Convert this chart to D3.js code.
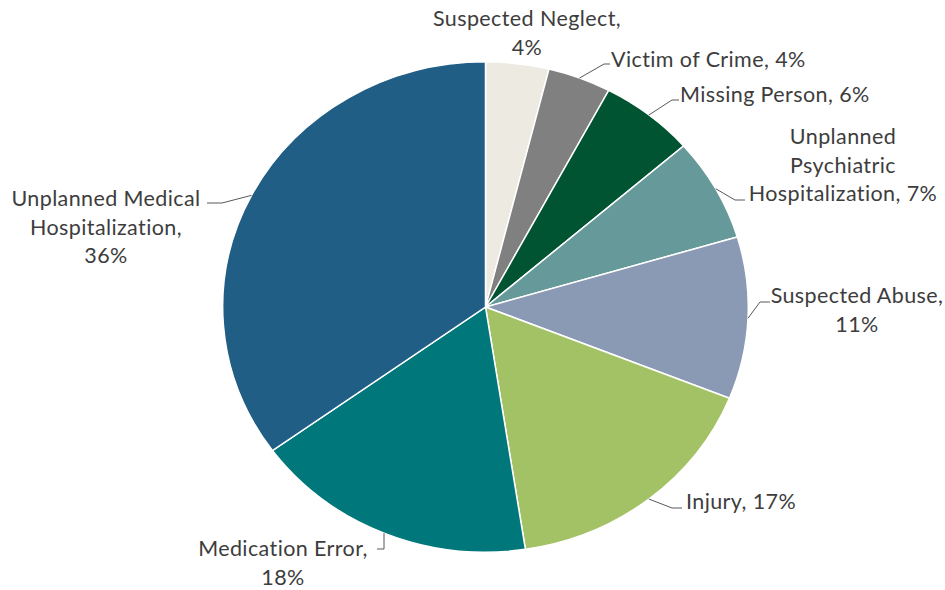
<!DOCTYPE html>
<html>
<head>
<meta charset="utf-8">
<script src="https://cdn.jsdelivr.net/npm/d3@7"></script>
<style>
  body { margin: 0; background: #ffffff; }
  svg { display: block; }
  .label { font-family: "Lato", "Open Sans", sans-serif; font-size: 21.5px; letter-spacing: 0.4px; fill: #3d3d3d; }
</style>
</head>
<body>
<svg id="chart" width="945" height="590"></svg>
<script>
// Incident categories, clockwise from 12 o'clock
const categories = [
  "Suspected Neglect",
  "Victim of Crime",
  "Missing Person",
  "Unplanned Psychiatric Hospitalization",
  "Suspected Abuse",
  "Injury",
  "Medication Error",
  "Unplanned Medical Hospitalization"
];
// Share of incidents (%)
const percentages = [4, 4, 6, 7, 11, 17, 18, 36];
const sliceColors = ["#EDEBE1", "#808080", "#005432", "#66999A", "#8A9AB4", "#A3C266", "#00777B", "#215E85"];
// Words per label line
const labelWrap = [[2, 1], [4], [3], [1, 1, 2], [2, 1], [2], [2, 1], [2, 1, 1]];

// Label placement: text anchor + first baseline, leader elbow and end
const labelLayout = [
  { anchor: "middle", x: 527, y: 26 },
  { anchor: "start", x: 611, y: 67, elbow: [604, 64], end: [610, 64] },
  { anchor: "start", x: 680, y: 102, elbow: [672, 100], end: [679, 100] },
  { anchor: "middle", x: 843, y: 144, elbow: [735, 200], end: [745, 200] },
  { anchor: "middle", x: 857, y: 303, elbow: [760, 302], end: [770, 302] },
  { anchor: "start", x: 686, y: 509, elbow: [672, 508], end: [682, 508] },
  { anchor: "middle", x: 283, y: 556, elbow: [384, 549], end: [377, 549] },
  { anchor: "middle", x: 106, y: 206, elbow: [222, 203], end: [207, 203] }
];
const lineHeight = 28.5;

const svg = d3.select("#chart");
const cx = 485.5, cy = 307, rx = 262.8, ry = 245.2;

const pie = d3.pie().sort(null).value(d => d.value);
const data = categories.map((c, i) => ({ name: c, value: percentages[i], color: sliceColors[i] }));
const arcs = pie(data);
const arc = d3.arc().innerRadius(0).outerRadius(ry);

// Pie drawn as a circle, stretched horizontally into an ellipse
const pieG = svg.append("g")
  .attr("transform", `translate(${cx},${cy}) scale(${rx / ry},1)`);
pieG.selectAll("path")
  .data(arcs)
  .join("path")
  .attr("d", arc)
  .attr("fill", d => d.data.color)
  .attr("stroke", "#ffffff")
  .attr("stroke-width", 1.5)
  .attr("vector-effect", "non-scaling-stroke");

// Point on the ellipse edge at a slice's mid-angle
function edgePoint(a) {
  const mid = (a.startAngle + a.endAngle) / 2;
  return [cx + rx * Math.sin(mid), cy - ry * Math.cos(mid)];
}

// Leader lines
const leaderG = svg.append("g");
arcs.forEach((a, i) => {
  const L = labelLayout[i];
  if (!L.elbow) return;
  const p0 = edgePoint(a);
  leaderG.append("path")
    .attr("d", d3.line()([p0, L.elbow, L.end]))
    .attr("fill", "none")
    .attr("stroke", "#595959")
    .attr("stroke-width", 1);
});

// Labels: "Category, value%" wrapped into lines
const labelG = svg.append("g");
arcs.forEach((a, i) => {
  const words = `${a.data.name}, ${a.data.value}%`.split(" ");
  const L = labelLayout[i];
  const t = labelG.append("text")
    .attr("class", "label")
    .attr("text-anchor", L.anchor);
  let k = 0;
  labelWrap[i].forEach((n, j) => {
    t.append("tspan")
      .attr("x", L.x)
      .attr("y", L.y + j * lineHeight)
      .text(words.slice(k, k + n).join(" "));
    k += n;
  });
});
</script>
</body>
</html>
